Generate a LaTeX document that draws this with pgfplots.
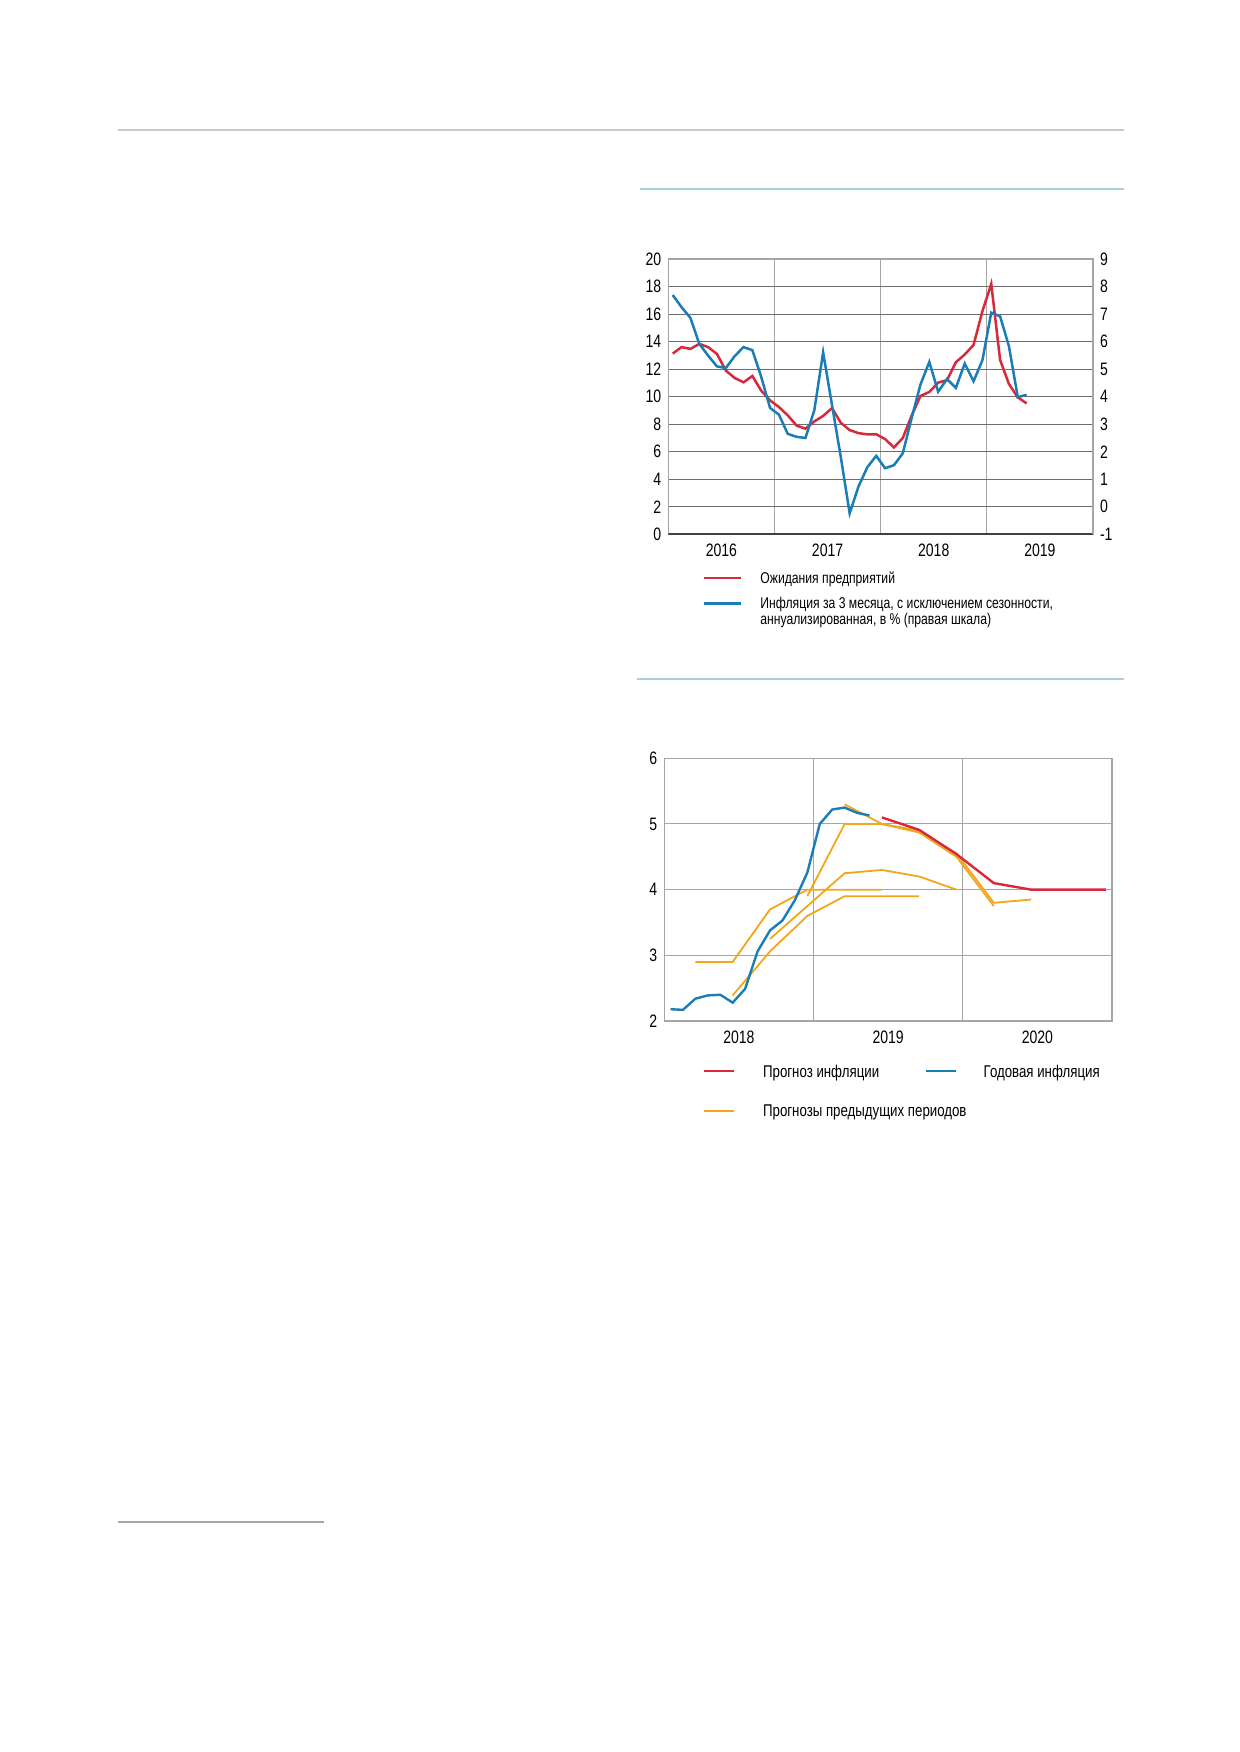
\documentclass[border=0pt]{standalone}
\usepackage{fontspec}
\setmainfont{Liberation Sans}[FakeStretch=0.78]
\usepackage{pgfplots}
\pgfplotsset{compat=1.18}
\definecolor{cred}{HTML}{D7283C}
\definecolor{cblue}{HTML}{1A7DB5}
\definecolor{cyel}{HTML}{F2A71B}
\definecolor{rulegray}{HTML}{C8C8C8}
\definecolor{ruleblue}{HTML}{A8CFE4}
\definecolor{griddark}{HTML}{6E6E6E}
\definecolor{gridlight}{HTML}{A5A5A5}
\begin{document}
\begin{tikzpicture}
\path[use as bounding box] (0pt,0pt) rectangle (619.5pt,-876pt);
% page rules
\draw[rulegray, line width=1pt] (59pt,-64.8pt) -- (562pt,-64.8pt);
\draw[ruleblue, line width=1pt] (320pt,-94.5pt) -- (562pt,-94.5pt);
\draw[ruleblue, line width=1pt] (318.5pt,-339.5pt) -- (562pt,-339.5pt);
\draw[gray!70, line width=0.6pt] (59pt,-761pt) -- (162pt,-761pt);

% ---------- Chart 1: left axis ----------
\begin{axis}[
  at={(334.15pt,-267.15pt)}, anchor=south west,
  width=212.35pt, height=137.65pt, scale only axis,
  xmin=-0.5, xmax=47.5, ymin=0, ymax=20,
  xtick={5.5,17.5,29.5,41.5}, xticklabels={2016,2017,2018,2019},
  minor xtick={11.5,23.5,35.5}, xminorgrids,
  ytick={0,2,...,20}, ymajorgrids,
  major tick length=0pt, minor tick length=0pt,
  axis line style={gridlight, line width=0.6pt},
  major grid style={griddark, line width=0.55pt},
  minor grid style={gridlight, line width=0.45pt},
  tick label style={font=\fontsize{9}{10}\selectfont},
  xticklabel style={yshift=-1.2pt},
  /pgf/number format/assume math mode=true,
]
\addplot[cred, line width=1.25pt] coordinates {
(0,13.13) (1,13.6) (2,13.47) (3,13.83) (4,13.6) (5,13.1) (6,11.9) (7,11.36)
(8,11.04) (9,11.5) (10,10.44) (11,9.73) (12,9.25) (13,8.64) (14,7.9) (15,7.67)
(16,8.2) (17,8.6) (18,9.17) (19,8.1) (20,7.57) (21,7.35) (22,7.26) (23,7.27)
(24,6.92) (25,6.31) (26,6.99) (27,8.62) (28,10.05) (29,10.34) (30,11.02) (31,11.2)
(32,12.5) (33,13.06) (34,13.76) (35,16.2) (36,18.2) (37,12.67) (38,10.92) (39,9.95)
(40,9.51)
};
\draw[black!75, line width=1.3pt] (rel axis cs:0,0) -- (rel axis cs:1,0);
\end{axis}

% ---------- Chart 1: right axis ----------
\begin{axis}[
  at={(334.15pt,-267.15pt)}, anchor=south west,
  width=212.35pt, height=137.65pt, scale only axis,
  xmin=-0.5, xmax=47.5, ymin=-1, ymax=9,
  axis x line=none, axis y line*=right,
  ytick={-1,0,...,9},
  major tick length=0pt,
  axis line style={gridlight, line width=0.6pt},
  tick label style={font=\fontsize{9}{10}\selectfont},
  /pgf/number format/assume math mode=true,
]
\addplot[cblue, line width=1.25pt] coordinates {
(0,7.69) (1,7.25) (2,6.86) (3,5.92) (4,5.49) (5,5.1) (6,5.04) (7,5.47)
(8,5.8) (9,5.69) (10,4.72) (11,3.59) (12,3.35) (13,2.65) (14,2.54) (15,2.5)
(16,3.5) (17,5.61) (18,3.7) (19,1.8) (20,-0.24) (21,0.74) (22,1.44) (23,1.85)
(24,1.4) (25,1.51) (26,1.94) (27,3.22) (28,4.44) (29,5.26) (30,4.18) (31,4.64)
(32,4.32) (33,5.2) (34,4.56) (35,5.32) (36,7.05) (37,6.92) (38,5.83) (39,3.98)
(40,4.07)
};
\end{axis}

% Chart 1 legend
\draw[cred, line width=1.2pt] (352pt,-289pt) -- (370.3pt,-289pt);
\node[anchor=base west, inner sep=0pt, font=\fontsize{7.8}{9}\selectfont] at (380pt,-291.6pt) {Ожидания предприятий};
\draw[cblue, line width=1.2pt] (352pt,-301.65pt) -- (370.3pt,-301.65pt);
\node[anchor=base west, inner sep=0pt, font=\fontsize{7.8}{9}\selectfont] at (380pt,-304.4pt) {Инфляция за 3 месяца, с исключением сезонности,};
\node[anchor=base west, inner sep=0pt, font=\fontsize{7.8}{9}\selectfont] at (380pt,-312.4pt) {аннуализированная, в \% (правая шкала)};

% ---------- Chart 2 ----------
\begin{axis}[
  at={(332.15pt,-510.5pt)}, anchor=south west,
  width=223.85pt, height=131.35pt, scale only axis,
  xmin=-0.5, xmax=35.5, ymin=2, ymax=6,
  xtick={5.5,17.5,29.5}, xticklabels={2018,2019,2020},
  minor xtick={11.5,23.5}, xminorgrids,
  ytick={2,3,...,6}, ymajorgrids,
  major tick length=0pt, minor tick length=0pt,
  axis line style={gridlight, line width=0.6pt},
  major grid style={gridlight, line width=0.5pt},
  minor grid style={gridlight, line width=0.5pt},
  tick label style={font=\fontsize{9}{10}\selectfont},
  xticklabel style={yshift=-1.2pt},
  /pgf/number format/assume math mode=true,
]
\addplot[cyel, line width=0.9pt] coordinates {(2,2.9) (5,2.9) (8,3.7) (11,4.0) (14,4.0) (17,4.0)};
\addplot[cyel, line width=0.9pt] coordinates {(5,2.39) (8,3.06) (11,3.6) (14,3.9) (17,3.9) (20,3.9)};
\addplot[cyel, line width=0.9pt] coordinates {(8,3.25) (11,3.75) (14,4.25) (17,4.3) (20,4.2) (23,4.0)};
\addplot[cyel, line width=0.9pt] coordinates {(11,3.9) (14,5.0) (17,5.0) (20,4.87) (23,4.5) (26,3.75)};
\addplot[cyel, line width=0.9pt] coordinates {(14,5.3) (17,5.0) (20,4.9) (23,4.55) (26,3.8) (29,3.85)};
\addplot[cblue, line width=1.2pt] coordinates {
(0,2.18) (1,2.17) (2,2.34) (3,2.39) (4,2.40) (5,2.28) (6,2.49) (7,3.06)
(8,3.38) (9,3.53) (10,3.84) (11,4.26) (12,5.0) (13,5.22) (14,5.25) (15,5.17) (16,5.13)
};
\addplot[cred, line width=1.2pt] coordinates {(17,5.10) (20,4.91) (23,4.54) (26,4.10) (29,4.0) (32,4.0) (35,4.0)};
\end{axis}

% Chart 2 legend
\draw[cred, line width=1.2pt] (352pt,-535.5pt) -- (367pt,-535.5pt);
\node[anchor=base west, inner sep=0pt, font=\fontsize{8.5}{10}\selectfont] at (381.35pt,-538.85pt) {Прогноз инфляции};
\draw[cblue, line width=1.2pt] (463pt,-535.5pt) -- (478pt,-535.5pt);
\node[anchor=base west, inner sep=0pt, font=\fontsize{8.5}{10}\selectfont] at (491.65pt,-538.85pt) {Годовая инфляция};
\draw[cyel, line width=0.9pt] (352pt,-555.35pt) -- (367pt,-555.35pt);
\node[anchor=base west, inner sep=0pt, font=\fontsize{8.5}{10}\selectfont] at (381.35pt,-558.35pt) {Прогнозы предыдущих периодов};
\end{tikzpicture}
\end{document}
